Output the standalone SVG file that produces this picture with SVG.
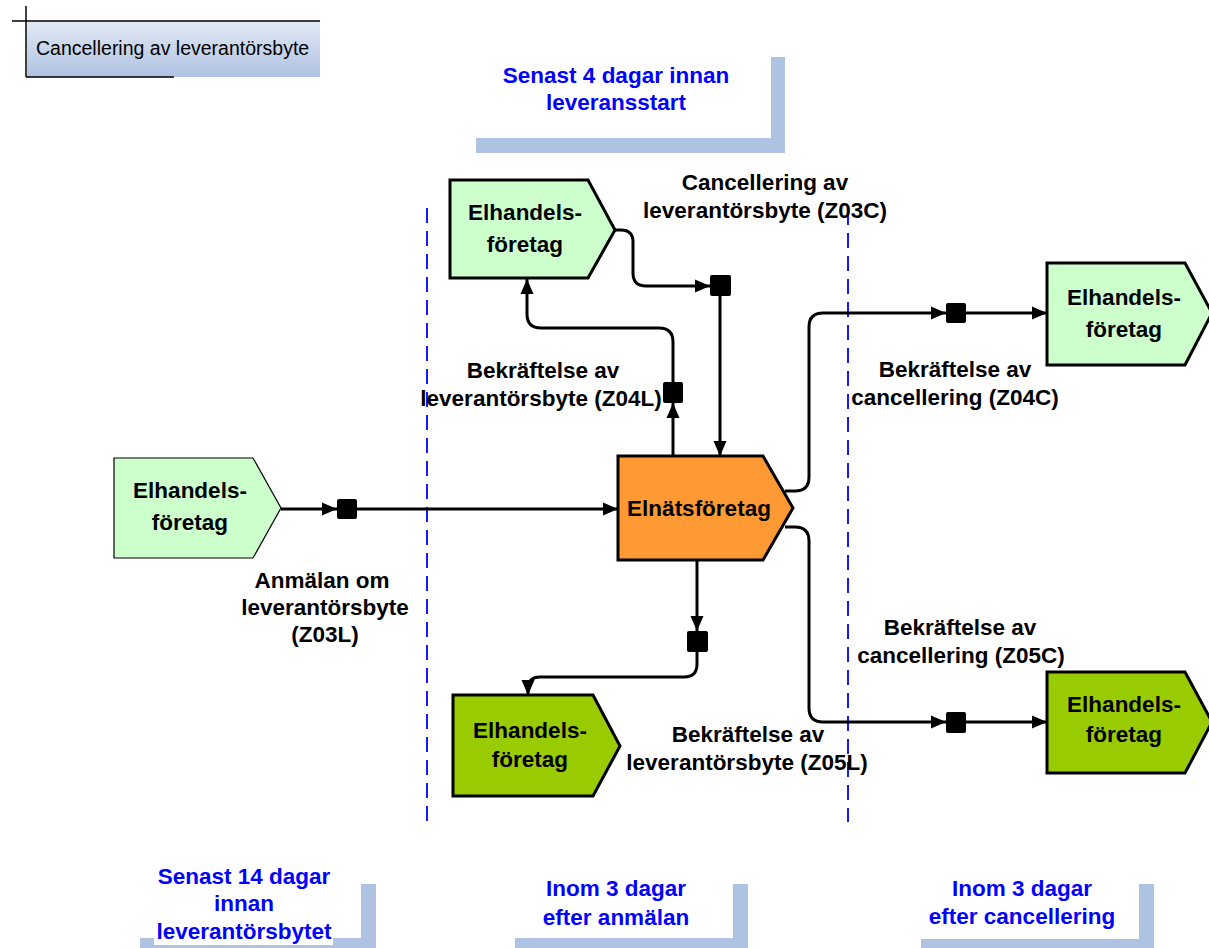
<svg xmlns="http://www.w3.org/2000/svg" width="1209" height="948" viewBox="0 0 1209 948">
<defs>
<linearGradient id="tg" x1="0" y1="0" x2="0" y2="1">
<stop offset="0" stop-color="#e2e9f4"/>
<stop offset="1" stop-color="#afc2e2"/>
</linearGradient>
<marker id="ah" markerUnits="userSpaceOnUse" markerWidth="16" markerHeight="16" viewBox="0 0 16 16" refX="15" refY="8" orient="auto">
<path d="M0,1.5 L15,8 L0,14.5 z" fill="#000"/>
</marker>
<style>
.lbl{font-family:"Liberation Sans",Arial,sans-serif;font-weight:bold;font-size:22.5px;fill:#000;text-anchor:middle}
.blue{font-family:"Liberation Sans",Arial,sans-serif;font-weight:bold;font-size:22.5px;fill:#0000ff;text-anchor:middle}
.node{stroke:#000;stroke-width:3;stroke-linejoin:miter}
.lg{fill:#ccffcc}
.dg{fill:#99cc00}
.or{fill:#ff9933}
.br{fill:#aec2e1}
.conn{fill:none;stroke:#000;stroke-width:3}
.sq{fill:#000}
.dash{stroke:#0000ff;stroke-width:1.8;stroke-dasharray:15 8;fill:none}
</style>
</defs>
<rect width="1209" height="948" fill="#fff"/>

<g id="title">
<rect x="27" y="21" width="293" height="56" fill="url(#tg)"/>
<line x1="12" y1="21" x2="320" y2="21" stroke="#000" stroke-width="1.5"/>
<line x1="26" y1="6" x2="26" y2="77" stroke="#000" stroke-width="1.5"/>
<line x1="26" y1="77" x2="174" y2="77" stroke="#000" stroke-width="1.5"/>
<text x="36" y="55" font-family="'Liberation Sans',Arial,sans-serif" font-size="19.5" fill="#000">Cancellering av leverantörsbyte</text>
</g>

<g id="phase-top">
<path class="br" d="M771,57 H785 V153 H476 V138 H771 Z"/>
<text class="blue" x="616" y="83">Senast 4 dagar innan</text>
<text class="blue" x="616" y="110">leveransstart</text>
</g>

<g id="dividers">
<line class="dash" x1="427" y1="208" x2="427" y2="822"/>
<line class="dash" x1="848" y1="210" x2="848" y2="822"/>
</g>

<g id="connectors">
<line class="conn" x1="281" y1="509" x2="337" y2="509" marker-end="url(#ah)"/>
<line class="conn" x1="357" y1="509" x2="618" y2="509" marker-end="url(#ah)"/>
<path class="conn" d="M615,230 H621 Q633,230 633,242 V273 Q633,286 646,286 H710" marker-end="url(#ah)"/>
<path class="conn" d="M720,296 V456" marker-end="url(#ah)"/>
<path class="conn" d="M673,456 V403" marker-end="url(#ah)"/>
<path class="conn" d="M673,382 V342 Q673,328 659,328 H541 Q527,328 527,314 V279" marker-end="url(#ah)"/>
<path class="conn" d="M785,491 H795 Q809,491 809,477 V327 Q809,313 823,313 H946" marker-end="url(#ah)"/>
<line class="conn" x1="966" y1="313" x2="1047" y2="313" marker-end="url(#ah)"/>
<path class="conn" d="M785,527 H795 Q809,527 809,541 V708 Q809,722 823,722 H946" marker-end="url(#ah)"/>
<line class="conn" x1="966" y1="722" x2="1047" y2="722" marker-end="url(#ah)"/>
<path class="conn" d="M697,560 V631" marker-end="url(#ah)"/>
<path class="conn" d="M697,652 V664 Q697,677 684,677 H540 Q528,677 528,689 V695" marker-end="url(#ah)"/>
<rect class="sq" x="337" y="499" width="20" height="20" rx="2"/>
<rect class="sq" x="710" y="275" width="21" height="21" rx="2"/>
<rect class="sq" x="663" y="382" width="20" height="21" rx="2"/>
<rect class="sq" x="946" y="303" width="20" height="20" rx="2"/>
<rect class="sq" x="946" y="712" width="20" height="21" rx="2"/>
<rect class="sq" x="687" y="631" width="21" height="21" rx="2"/>
</g>

<g id="node-left">
<path class="lg" stroke="#000" stroke-width="1.2" d="M114,458 H253 L281,508 L253,558 H114 Z"/>
<text class="lbl" x="190" y="498">Elhandels-</text>
<text class="lbl" x="190" y="530">företag</text>
</g>

<g id="node-top">
<path class="node lg" d="M450,180 H588 L615,230 L588,278 H450 Z"/>
<text class="lbl" x="525" y="220">Elhandels-</text>
<text class="lbl" x="525" y="252">företag</text>
</g>

<g id="node-center">
<path class="node or" d="M618,456 H763 L793,508 L763,560 H618 Z"/>
<text class="lbl" x="699" y="516">Elnätsföretag</text>
</g>

<g id="node-right-top">
<path class="node lg" d="M1047,263 H1185 L1212,313 L1185,365 H1047 Z"/>
<text class="lbl" x="1124" y="305">Elhandels-</text>
<text class="lbl" x="1124" y="337">företag</text>
</g>

<g id="node-right-bottom">
<path class="node dg" d="M1047,672 H1185 L1212,722 L1185,773 H1047 Z"/>
<text class="lbl" x="1124" y="712">Elhandels-</text>
<text class="lbl" x="1124" y="742">företag</text>
</g>

<g id="node-bottom">
<path class="node dg" d="M453,695 H593 L620,746 L593,796 H453 Z"/>
<text class="lbl" x="530" y="738">Elhandels-</text>
<text class="lbl" x="530" y="767">företag</text>
</g>

<g id="labels">
<text class="lbl" x="765" y="190">Cancellering av</text>
<text class="lbl" x="765" y="218">leverantörsbyte (Z03C)</text>
<text class="lbl" x="543" y="378">Bekräftelse av</text>
<text class="lbl" x="541" y="406">leverantörsbyte (Z04L)</text>
<text class="lbl" x="955" y="377">Bekräftelse av</text>
<text class="lbl" x="955" y="405">cancellering (Z04C)</text>
<text class="lbl" x="960" y="635">Bekräftelse av</text>
<text class="lbl" x="961" y="663">cancellering (Z05C)</text>
<text class="lbl" x="748" y="742">Bekräftelse av</text>
<text class="lbl" x="747" y="770">leverantörsbyte (Z05L)</text>
<text class="lbl" x="322" y="588">Anmälan om</text>
<text class="lbl" x="325" y="615">leverantörsbyte</text>
<text class="lbl" x="325" y="642">(Z03L)</text>
</g>

<g id="phase-bottom-left">
<path class="br" d="M361,884 H376 V948 H140 V938 H361 Z"/>
<rect x="154" y="917" width="179" height="28" fill="#fff"/>
<text class="blue" x="244" y="884">Senast 14 dagar</text>
<text class="blue" x="244" y="911">innan</text>
<text class="blue" x="244" y="939">leverantörsbytet</text>
</g>

<g id="phase-bottom-mid">
<path class="br" d="M733,884 H748 V948 H515 V938 H733 Z"/>
<text class="blue" x="616" y="896">Inom 3 dagar</text>
<text class="blue" x="616" y="925">efter anmälan</text>
</g>

<g id="phase-bottom-right">
<path class="br" d="M1139,884 H1154 V948 H921 V939 H1139 Z"/>
<text class="blue" x="1022" y="896">Inom 3 dagar</text>
<text class="blue" x="1022" y="924">efter cancellering</text>
</g>
</svg>
